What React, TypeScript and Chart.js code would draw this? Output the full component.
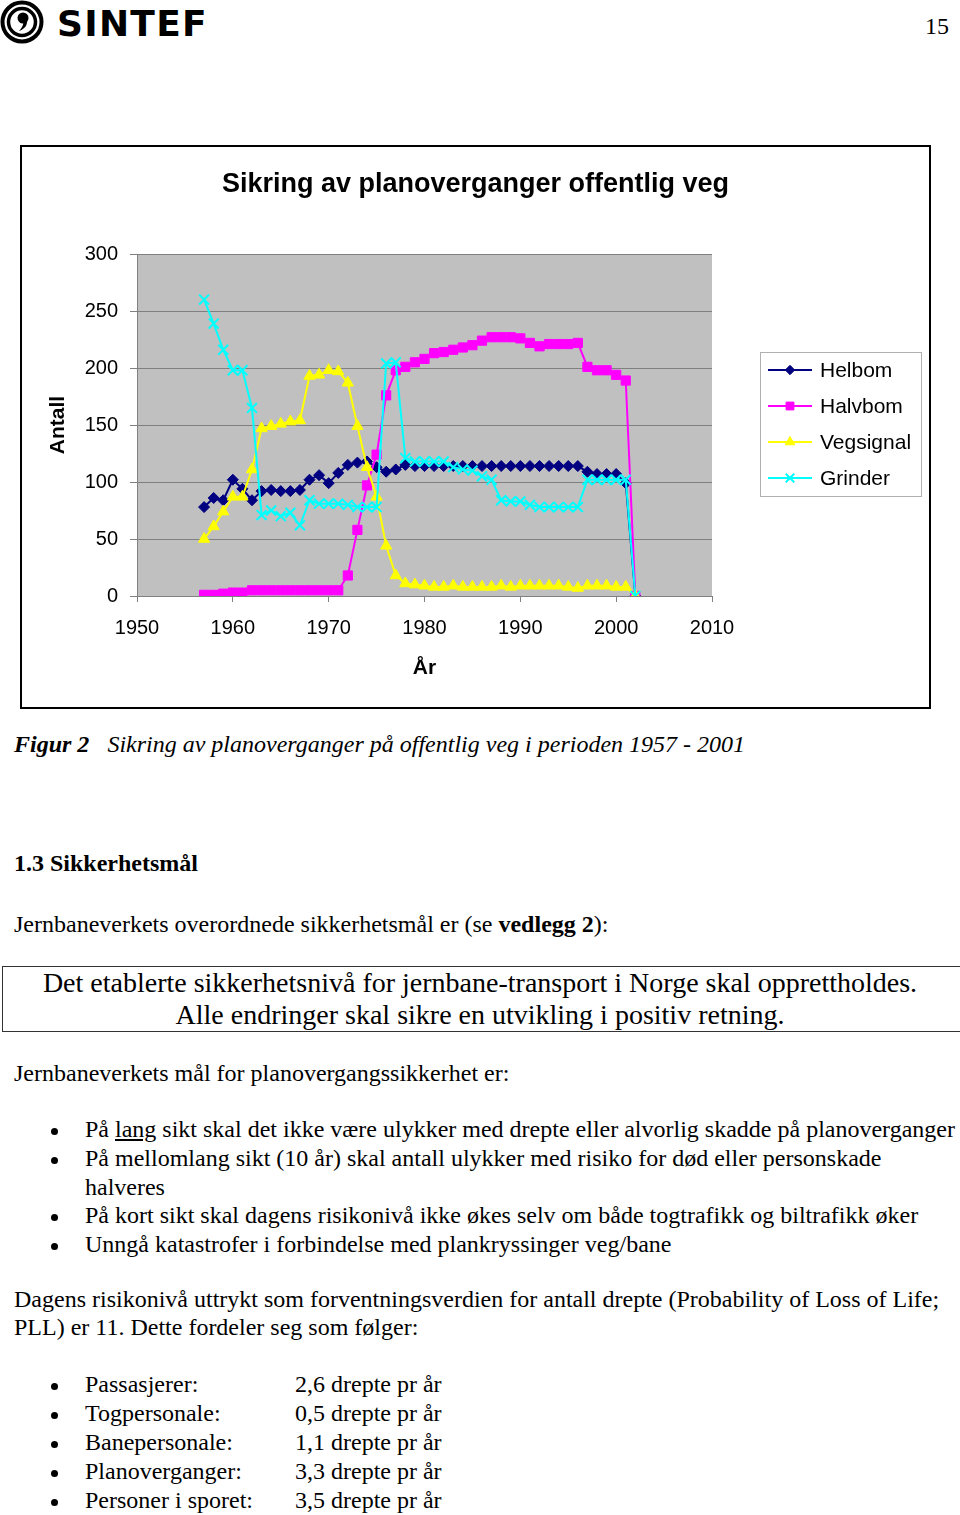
import React, { useEffect, useRef } from "react";
import { Chart, registerables } from "chart.js";
import { drawPoint } from "chart.js/helpers";

Chart.register(...registerables);

const years = [
  1957, 1958, 1959, 1960, 1961, 1962, 1963, 1964, 1965, 1966, 1967, 1968, 1969, 1970, 1971, 1972,
  1973, 1974, 1975, 1976, 1977, 1978, 1979, 1980, 1981, 1982, 1983, 1984, 1985, 1986, 1987, 1988,
  1989, 1990, 1991, 1992, 1993, 1994, 1995, 1996, 1997, 1998, 1999, 2000, 2001, 2002,
];
const helbom = [
  78, 86, 84, 102, 94, 84, 92, 93, 92, 92, 93, 102, 106, 99, 108, 115,
  117, 118, 113, 109, 111, 115, 114, 114, 114, 114, 114, 114, 114, 114, 114, 114,
  114, 114, 114, 114, 114, 114, 114, 114, 109, 107, 107, 107, 99, 0,
];
const halvbom = [
  1, 1, 2, 3, 3, 5, 5, 5, 5, 5, 5, 5, 5, 5, 5, 18,
  58, 97, 124, 176, 198, 201, 205, 208, 213, 214, 216, 218, 220, 224, 227, 227,
  227, 226, 222, 219, 221, 221, 221, 222, 201, 198, 198, 194, 189, 0,
];
const vegsignal = [
  50, 61, 74, 87, 87, 111, 147, 149, 151, 153, 154, 193, 194, 198, 197, 187,
  149, 113, 87, 44, 18, 11, 10, 9, 8, 8, 9, 8, 8, 8, 8, 9,
  8, 9, 9, 9, 9, 9, 8, 7, 9, 9, 9, 8, 8, 0,
];
const grinder = [
  260, 239, 216, 198, 198, 165, 71, 75, 70, 73, 62, 84, 81, 81, 81, 80,
  78, 78, 78, 204, 205, 121, 118, 118, 118, 118, 113, 111, 110, 105, 102, 84,
  83, 83, 80, 78, 78, 78, 78, 78, 102, 102, 102, 102, 102, 0,
];
const seriesNames = ["Helbom", "Halvbom", "Vegsignal", "Grinder"];
const chartTitle = "Sikring av planoverganger offentlig veg";
const yAxisTitle = "Antall";
const xAxisTitle = "År";

const SANS = '"Liberation Sans", Arial, sans-serif';
const SERIF = '"Liberation Serif", "Times New Roman", serif';

const toPoints = (vals: number[]) => years.map((yr, i) => ({ x: yr, y: vals[i] }));

const plotBg = {
  id: "plotBg",
  beforeDraw(chart: any) {
    const { ctx, chartArea } = chart;
    ctx.save();
    ctx.fillStyle = "#c0c0c0";
    ctx.fillRect(chartArea.left, chartArea.top, chartArea.right - chartArea.left, chartArea.bottom - chartArea.top);
    ctx.restore();
  },
};

const boxLegend = {
  id: "boxLegend",
  afterDraw(chart: any) {
    const { ctx, chartArea } = chart;
    const bx = chartArea.right + 48;
    const by = 204;
    const bw = 162;
    const bh = 145;
    ctx.save();
    ctx.fillStyle = "#ffffff";
    ctx.fillRect(bx, by, bw, bh);
    ctx.strokeStyle = "#b0b0b0";
    ctx.lineWidth = 1;
    ctx.strokeRect(bx + 0.5, by + 0.5, bw - 1, bh - 1);
    chart.data.datasets.forEach((ds: any, i: number) => {
      const y = by + 18 + i * 36;
      ctx.strokeStyle = ds.borderColor;
      ctx.lineWidth = 2;
      ctx.beginPath();
      ctx.moveTo(bx + 8, y);
      ctx.lineTo(bx + 52, y);
      ctx.stroke();
      ctx.fillStyle = ds.pointBackgroundColor;
      ctx.strokeStyle = ds.pointBorderColor;
      ctx.lineWidth = ds.pointBorderWidth;
      drawPoint(ctx, { pointStyle: ds.pointStyle, rotation: 0, radius: ds.pointRadius * 0.85, borderWidth: ds.pointBorderWidth }, bx + 30, y);
      ctx.fillStyle = "#000";
      ctx.font = `21px ${SANS}`;
      ctx.textBaseline = "middle";
      ctx.textAlign = "left";
      ctx.fillText(ds.label, bx + 60, y + 1);
    });
    ctx.restore();
  },
};

function SintefChart() {
  const ref = useRef<HTMLCanvasElement>(null);
  useEffect(() => {
    if (!ref.current) return;
    const mk = (label: string, vals: number[], color: string, style: string, radius: number, order: number, bw = 1) => ({
      label,
      data: toPoints(vals),
      borderColor: color,
      backgroundColor: color,
      pointBackgroundColor: color,
      pointBorderColor: color,
      pointBorderWidth: bw,
      pointStyle: style,
      pointRadius: radius,
      borderWidth: 2,
      tension: 0,
      order,
      yAxisID: "y",
    });
    const chart = new Chart(ref.current, {
      type: "line",
      data: {
        datasets: [
          mk(seriesNames[0], helbom, "#000080", "rectRot", 5.5, 3),
          mk(seriesNames[1], halvbom, "#ff00ff", "rect", 6.5, 2),
          mk(seriesNames[2], vegsignal, "#ffff00", "triangle", 6.5, 1),
          mk(seriesNames[3], grinder, "#00ffff", "crossRot", 7, 0, 2),
        ],
      } as any,
      options: {
        responsive: false,
        animation: false,
        devicePixelRatio: 1,
        layout: { padding: 0 },
        plugins: {
          legend: { display: false },
          tooltip: { enabled: false },
          title: {
            display: true,
            text: chartTitle,
            color: "#000",
            font: { family: SANS, size: 27, weight: "bold" },
            padding: { top: 20.8, bottom: 52.8 },
          },
        },
        scales: {
          x: {
            type: "linear",
            min: 1950,
            max: 2010,
            afterFit: (s: any) => {
              s.height = 110;
            },
            ticks: {
              stepSize: 10,
              color: "#000",
              font: { family: SANS, size: 20 },
              padding: 14,
              maxRotation: 0,
              callback: (v: any) => String(v),
            },
            grid: { drawOnChartArea: false, drawTicks: true, tickLength: 6, color: "#808080" },
            border: { color: "#808080" },
            title: {
              display: true,
              text: xAxisTitle,
              color: "#000",
              font: { family: SANS, size: 21, weight: "bold" },
              padding: { top: 0, bottom: 25.4 },
            },
          },
          y: {
            position: "left",
            min: 0,
            max: 300,
            afterFit: (s: any) => {
              s.width = 114;
            },
            ticks: {
              stepSize: 50,
              color: "#000",
              font: { family: SANS, size: 20 },
              padding: 12,
            },
            grid: { color: "#808080", tickLength: 7 },
            border: { color: "#808080" },
            title: {
              display: true,
              text: yAxisTitle,
              color: "#000",
              font: { family: SANS, size: 21, weight: "bold" },
              padding: { top: 22.4, bottom: 0 },
            },
          },
          legendSpace: {
            type: "linear",
            position: "right",
            min: 0,
            max: 1,
            afterFit: (s: any) => {
              s.width = 216;
            },
            ticks: { display: false },
            grid: { display: false, drawTicks: false },
            border: { display: false },
          },
        },
      } as any,
      plugins: [plotBg, boxLegend],
    });
    return () => chart.destroy();
  }, []);
  return (
    <canvas
      ref={ref}
      width={905}
      height={558}
      style={{ position: "absolute", left: 23, top: 148, width: 905, height: 558 }}
    />
  );
}

const T = ({ x, y, size = 24, children, style }: any) => (
  <div
    style={{
      position: "absolute",
      left: x,
      top: y - size * 0.55,
      fontSize: size,
      lineHeight: `${size}px`,
      whiteSpace: "nowrap",
      fontFamily: SERIF,
      color: "#000",
      ...style,
    }}
  >
    {children}
  </div>
);

const Bullet = ({ y }: any) => (
  <div
    style={{
      position: "absolute",
      left: 51,
      top: y - 3,
      width: 7,
      height: 7,
      borderRadius: "50%",
      background: "#000",
    }}
  />
);

const goals = [
  <>På <u>lang</u> sikt skal det ikke være ulykker med drepte eller alvorlig skadde på planoverganger</>,
  <>På mellomlang sikt (10 år) skal antall ulykker med risiko for død eller personskade</>,
];

const pllNames = ["Passasjerer:", "Togpersonale:", "Banepersonale:", "Planoverganger:", "Personer i sporet:"];
const pllValues = ["2,6 drepte pr år", "0,5 drepte pr år", "1,1 drepte pr år", "3,3 drepte pr år", "3,5 drepte pr år"];

export default function App() {
  return (
    <div style={{ position: "absolute", left: 0, top: 0, width: 960, height: 1515, background: "#fff", overflow: "hidden" }}>
      <svg width="46" height="46" style={{ position: "absolute", left: 0, top: 0 }}>
        <circle cx="22" cy="22" r="19.5" fill="none" stroke="#000" strokeWidth="4" />
        <circle cx="22" cy="22" r="13.5" fill="none" stroke="#000" strokeWidth="3.5" />
        <circle cx="23" cy="18" r="5.5" fill="#000" />
        <path d="M27 18 C28 25 25 29 19 31 C23 27 24 23 23 20 Z" fill="#000" />
      </svg>
      <div
        style={{
          position: "absolute",
          left: 57,
          top: 5.8,
          fontFamily: '"DejaVu Sans", sans-serif',
          fontWeight: "bold",
          fontSize: 36,
          lineHeight: "36px",
          letterSpacing: 1.3,
        }}
      >
        SINTEF
      </div>
      <T x={925} y={27} size={24}>15</T>

      <div
        style={{
          position: "absolute",
          left: 20,
          top: 145,
          width: 911,
          height: 564,
          boxSizing: "border-box",
          border: "2px solid #000",
        }}
      />
      <SintefChart />

      <T x={14} y={745} size={24} style={{ fontStyle: "italic" }}>
        <b>Figur 2</b>&nbsp;&nbsp;&nbsp;Sikring av planoverganger på offentlig veg i perioden 1957 - 2001
      </T>

      <T x={14} y={864} style={{ fontWeight: "bold" }}>1.3 Sikkerhetsmål</T>
      <T x={14} y={925}>
        Jernbaneverkets overordnede sikkerhetsmål er (se <b>vedlegg 2</b>):
      </T>

      <div
        style={{
          position: "absolute",
          left: 2,
          top: 966,
          width: 960,
          height: 66,
          boxSizing: "border-box",
          border: "1px solid #333",
        }}
      />
      <T x={0} y={984} size={28} style={{ width: 960, textAlign: "center" }}>
        Det etablerte sikkerhetsnivå for jernbane-transport i Norge skal opprettholdes.
      </T>
      <T x={0} y={1016} size={28} style={{ width: 960, textAlign: "center" }}>
        Alle endringer skal sikre en utvikling i positiv retning.
      </T>

      <T x={14} y={1074}>Jernbaneverkets mål for planovergangssikkerhet er:</T>

      <Bullet y={1131} />
      <T x={85} y={1130}>{goals[0]}</T>
      <Bullet y={1160} />
      <T x={85} y={1159}>{goals[1]}</T>
      <T x={85} y={1188}>halveres</T>
      <Bullet y={1217} />
      <T x={85} y={1216}>På kort sikt skal dagens risikonivå ikke økes selv om både togtrafikk og biltrafikk øker</T>
      <Bullet y={1246} />
      <T x={85} y={1245}>Unngå katastrofer i forbindelse med plankryssinger veg/bane</T>

      <T x={14} y={1300}>
        Dagens risikonivå uttrykt som forventningsverdien for antall drepte (Probability of Loss of Life;
      </T>
      <T x={14} y={1328}>PLL) er 11. Dette fordeler seg som følger:</T>

      {pllNames.map((n, i) => (
        <React.Fragment key={n}>
          <Bullet y={1386 + i * 29} />
          <T x={85} y={1385 + i * 29}>{n}</T>
          <T x={295} y={1385 + i * 29}>{pllValues[i]}</T>
        </React.Fragment>
      ))}
    </div>
  );
}
